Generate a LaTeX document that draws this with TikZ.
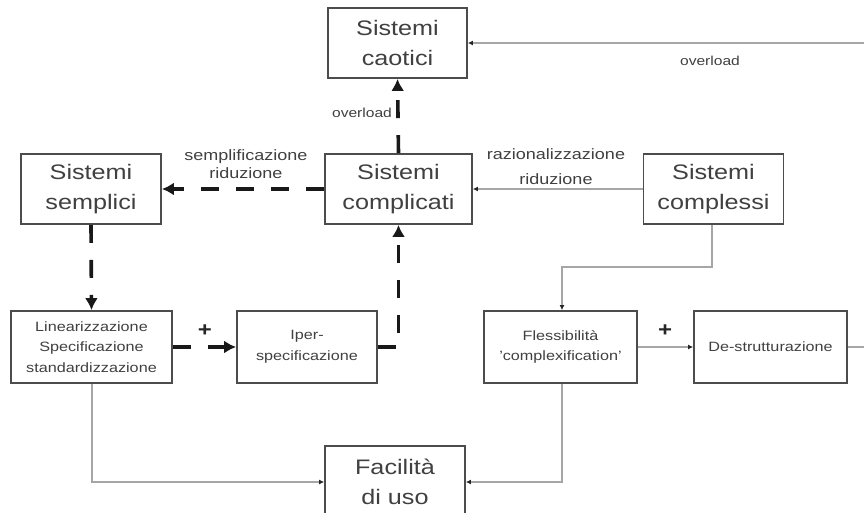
\documentclass[tikz,border=0pt]{standalone}
\usepackage{fontspec}
\setmainfont{Liberation Sans}[FakeStretch=1.2]
\usetikzlibrary{arrows.meta}
\begin{document}
\begin{tikzpicture}[x=1pt,y=-1pt,
  box/.style={draw=black!70,line width=1.8pt,fill=white,text=black!75,align=center,inner sep=0pt},
  bigbox/.style={box,minimum height=70pt,font=\fontsize{21}{30}\selectfont},
  smallbox/.style={box,minimum height=72pt,font=\fontsize{13.5}{20.5}\selectfont},
  thickdash/.style={line width=3.6pt,dash pattern=on 18pt off 17pt,black!90,-{Latex[length=12pt,width=13pt]}},
  thin/.style={line width=1.4pt,black!35,-{Latex[length=5pt,width=5pt,black!85]}},
  lbl/.style={text=black!75,align=center,inner sep=0pt,font=\fontsize{15}{18}\selectfont},
  slbl/.style={text=black!75,inner sep=0pt,font=\fontsize{13}{16}\selectfont},
  plus/.style={text=black!85,inner sep=0pt,font=\bfseries\fontsize{20}{20}\selectfont}]
\useasboundingbox (0,0) rectangle (864,513);
\node[bigbox,minimum width=139pt] (caot) at (397.5,43) {Sistemi\\caotici};
\node[bigbox,minimum width=140pt] (sempl) at (91,189) {Sistemi\\semplici};
\node[bigbox,minimum width=147pt] (compl) at (398.5,189) {Sistemi\\complicati};
\node[bigbox,minimum width=140pt] (comss) at (713.5,189) {Sistemi\\complessi};
\node[smallbox,minimum width=161pt] (lin) at (91.5,347) {Linearizzazione\\Specificazione\\standardizzazione};
\node[smallbox,minimum width=140pt] (iper) at (307,347) {Iper-\\specificazione};
\node[smallbox,minimum width=153pt] (fless) at (560.5,347) {Flessibilità\\'complexification'};
\node[smallbox,minimum width=153pt] (destr) at (770.5,347) {De-strutturazione};
\node[bigbox,minimum width=140pt,minimum height=72pt] (facil) at (395,482) {Facilità\\di uso};
\coordinate (rt) at (885,347);
\coordinate (rtop) at (885,43);
\coordinate (ip) at (398.5,347);
\coordinate (cs1) at (712,267);
\coordinate (cs2) at (562,267);
\coordinate (lb) at (92,482);
\coordinate (fb) at (562,482);
\draw[thickdash] (compl.north) -- (caot.south);
\node[slbl] (ov1) at (362,113) {overload};
\draw[thin] (destr.east) -- (rt) -- (rtop) -- (caot.east);
\node[slbl] (ov2) at (710,61) {overload};
\draw[thickdash] (compl.west) -- (sempl.east);
\node[lbl] (l1) at (246,164) {semplificazione\\riduzione};
\draw[thin] (comss.west) -- (compl.east);
\node[lbl,font=\fontsize{15}{25}\selectfont] (l2) at (556,167) {razionalizzazione\\riduzione};
\draw[thickdash] (sempl.south) -- (lin.north);
\draw[thickdash] (lin.east) -- (iper.west);
\node[plus] (p1) at (205,331) {+};
\draw[thickdash] (iper.east) -- (ip) -- (compl.south);
\draw[thin] (comss.south -| cs1) -- (cs1) -- (cs2) -- (fless.north -| cs2);
\draw[thin] (fless.east) -- (destr.west);
\node[plus] (p2) at (665,331) {+};
\draw[thin] (lin.south -| lb) -- (lb) -- (facil.west);
\draw[thin] (fless.south -| fb) -- (fb) -- (facil.east);
\end{tikzpicture}
\end{document}
